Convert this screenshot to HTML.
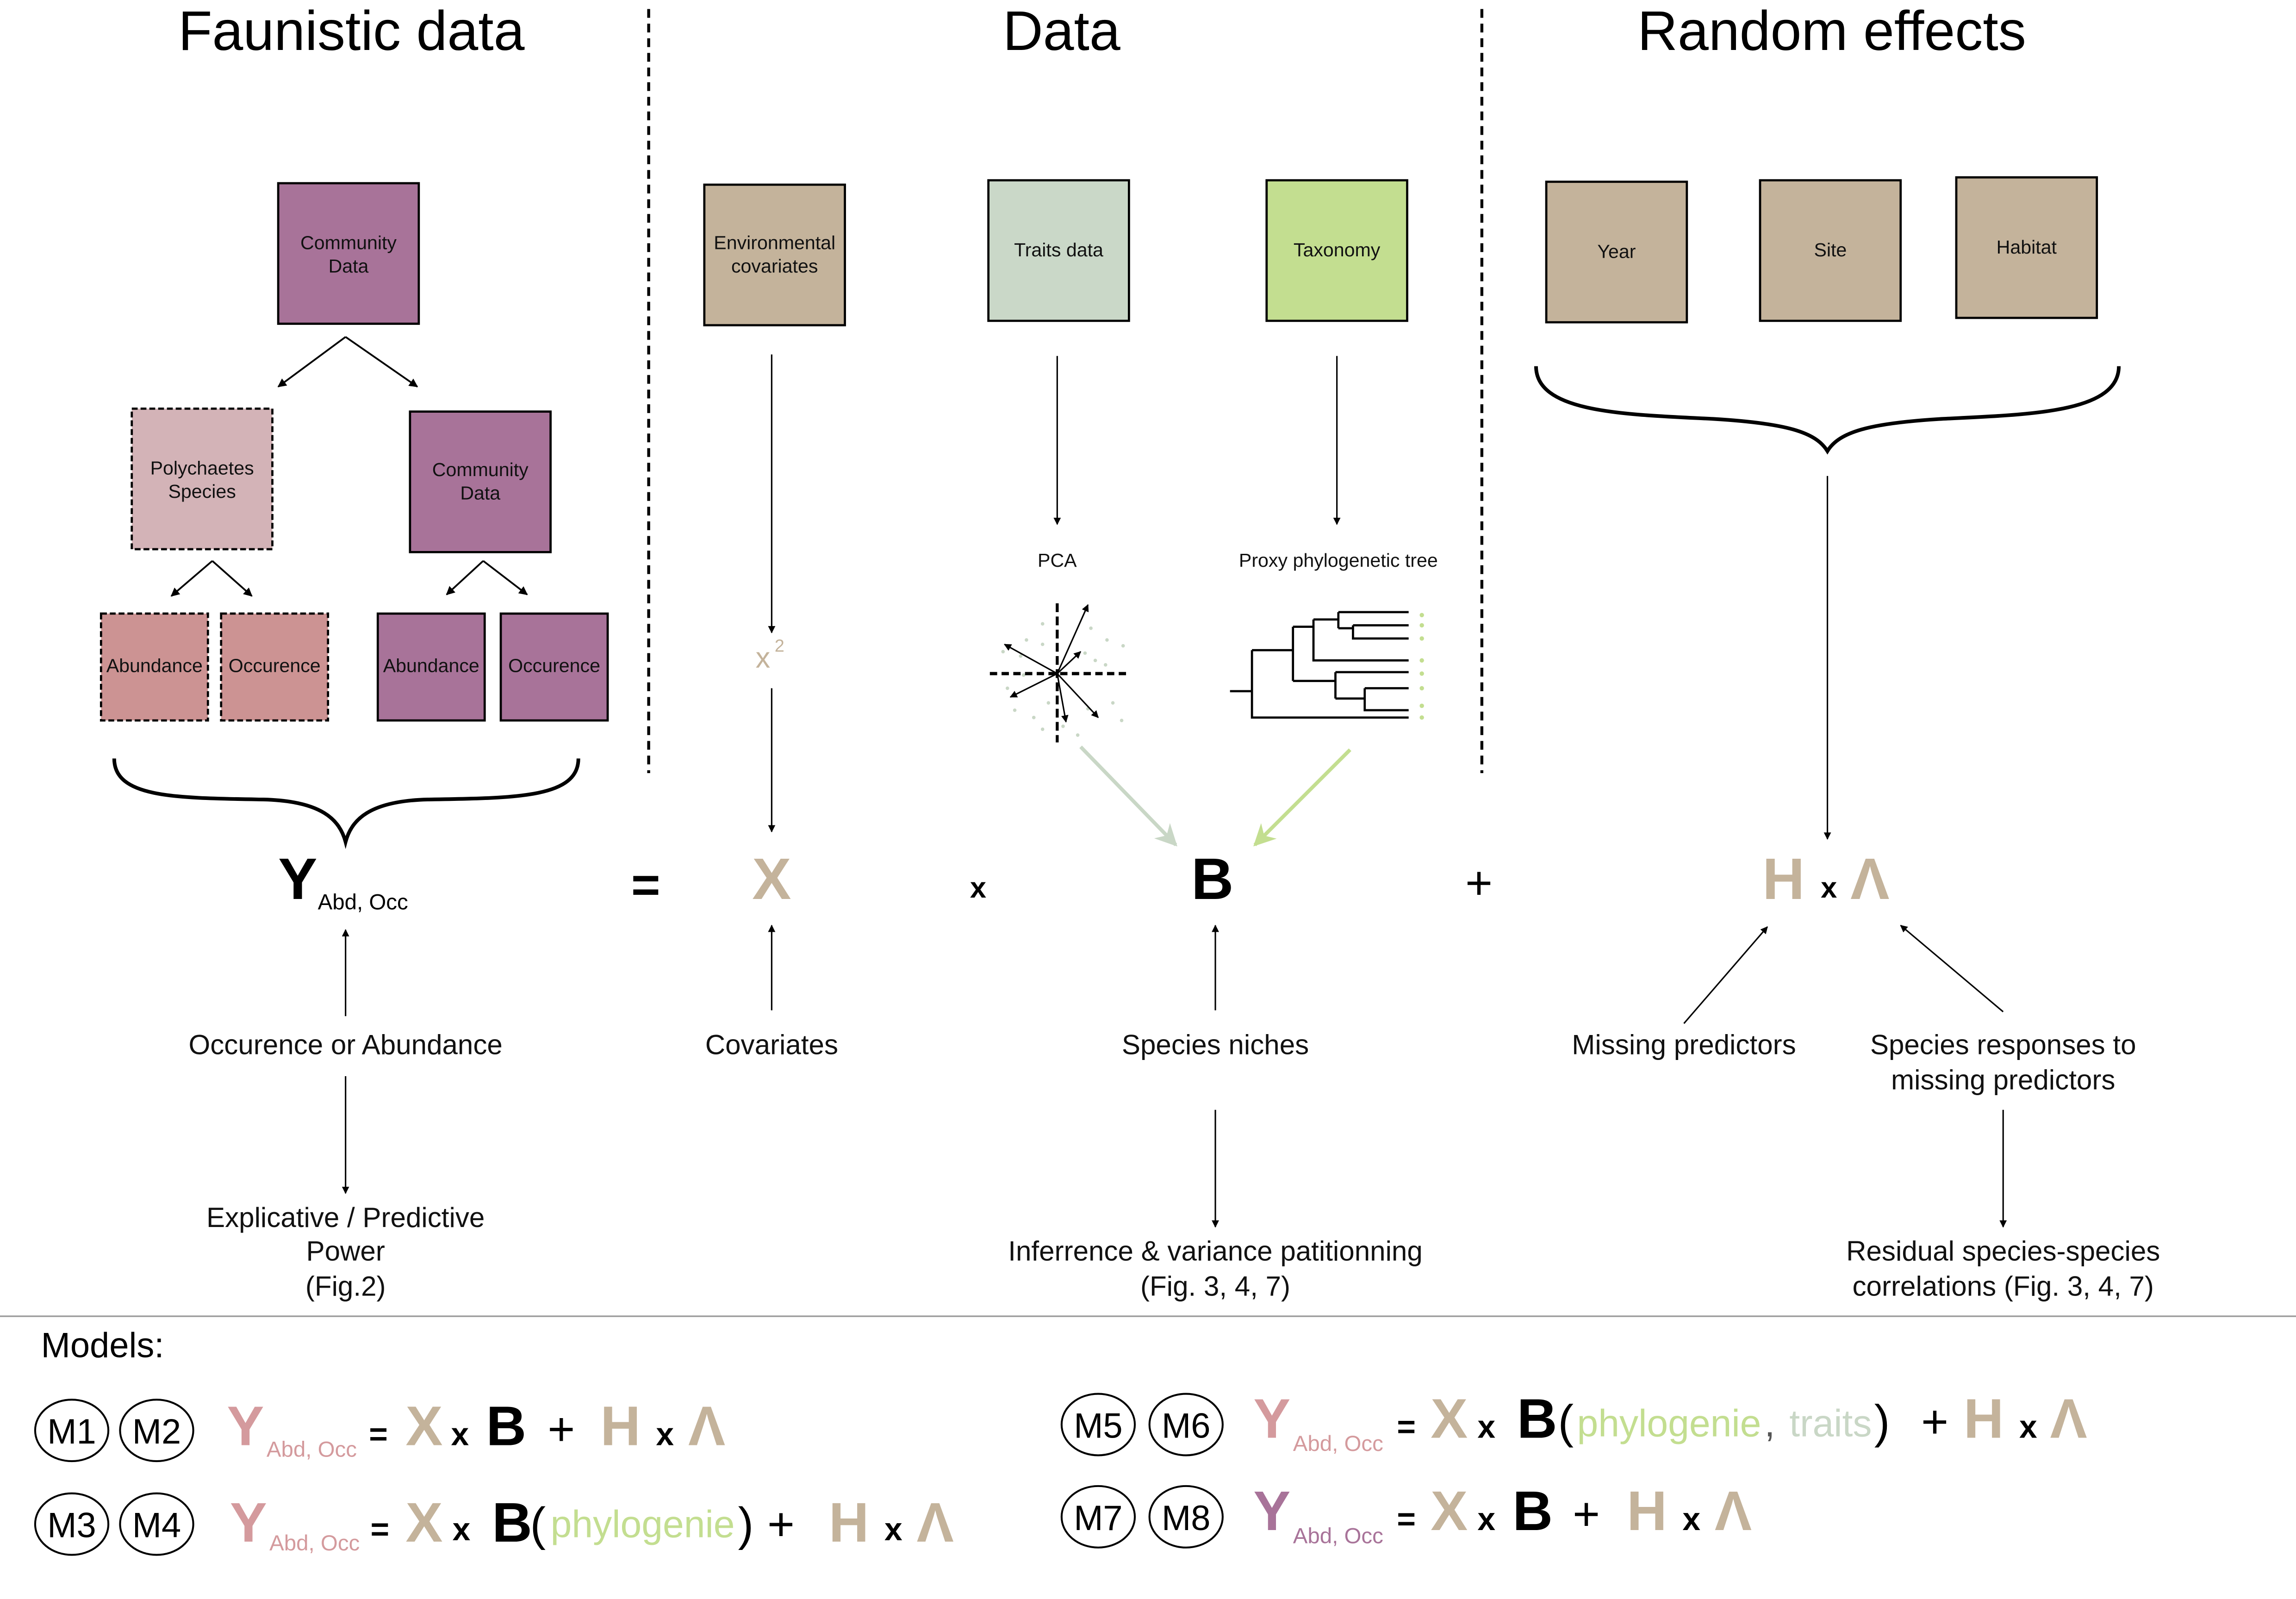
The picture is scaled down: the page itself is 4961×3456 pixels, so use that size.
<!DOCTYPE html>
<html><head><meta charset="utf-8"><style>
html,body{margin:0;padding:0;background:#fff;}
svg{display:block;}
text{font-family:"Liberation Sans",Arial,sans-serif;}
</style></head><body>
<svg width="4961" height="3456" viewBox="0 0 1568 1092" xmlns="http://www.w3.org/2000/svg">
<defs>
<marker id="ah" viewBox="0 0 10 10" refX="9" refY="5" markerWidth="7" markerHeight="7" orient="auto-start-reverse"><path d="M0,1 L10,5 L0,9 L3,5 z" fill="#000"/></marker>
<marker id="ahg" viewBox="0 0 10 10" refX="9" refY="5" markerWidth="6" markerHeight="6" orient="auto"><path d="M0,0 L10,5 L0,10 L3,5 z" fill="#c9d7c6"/></marker>
<marker id="ahl" viewBox="0 0 10 10" refX="9" refY="5" markerWidth="6" markerHeight="6" orient="auto"><path d="M0,0 L10,5 L0,10 L3,5 z" fill="#c3de90"/></marker>
<marker id="ahs" viewBox="0 0 10 10" refX="9" refY="5" markerWidth="5" markerHeight="5" orient="auto"><path d="M0,0 L10,5 L0,10 z" fill="#000"/></marker>
</defs>
<rect width="1568" height="1092" fill="#fff"/>
<!-- titles -->
<g font-size="38" text-anchor="middle" fill="#000">
<text x="240" y="34">Faunistic data</text>
<text x="725" y="34">Data</text>
<text x="1251" y="34">Random effects</text>
</g>
<line x1="443" y1="6" x2="443" y2="528" stroke="#000" stroke-width="2" stroke-dasharray="6,4"/>
<line x1="1012" y1="6" x2="1012" y2="528" stroke="#000" stroke-width="2" stroke-dasharray="6,4"/>

<!-- left boxes -->
<g stroke="#000" stroke-width="1.5">
<rect x="190" y="125" width="96" height="96" fill="#a87399"/>
<rect x="90" y="279" width="96" height="96" fill="#d3b3b7" stroke-dasharray="4,2"/>
<rect x="280" y="281" width="96" height="96" fill="#a87399"/>
<rect x="69" y="419" width="73" height="73" fill="#cc9393" stroke-dasharray="4,2"/>
<rect x="151" y="419" width="73" height="73" fill="#cc9393" stroke-dasharray="4,2"/>
<rect x="258" y="419" width="73" height="73" fill="#a87399"/>
<rect x="342" y="419" width="73" height="73" fill="#a87399"/>
</g>
<g font-size="13" text-anchor="middle" fill="#111">
<text x="238" y="170">Community</text><text x="238" y="186">Data</text>
<text x="138" y="324">Polychaetes</text><text x="138" y="340">Species</text>
<text x="328" y="325">Community</text><text x="328" y="341">Data</text>
<text x="105.5" y="459">Abundance</text>
<text x="187.5" y="459">Occurence</text>
<text x="294.5" y="459">Abundance</text>
<text x="378.5" y="459">Occurence</text>
</g>
<g stroke="#000" stroke-width="1.2" fill="none" marker-end="url(#ahs)">
<path d="M236,230 L190,264"/><path d="M236,230 L285,264"/>
<path d="M145,383 L117,407"/><path d="M145,383 L172,407"/>
<path d="M330,383 L305,406"/><path d="M330,383 L360,406"/>
</g>
<!-- braces -->
<path d="M78,518 C78,545 120,545 180,546 C220,547 232,560 236,575 C240,560 252,547 292,546 C352,545 395,545 395,518" fill="none" stroke="#000" stroke-width="2.5"/>
<path d="M1049,250 C1049,282 1110,283 1170,286 C1220,289 1240,295 1248,308 C1256,295 1276,289 1326,286 C1386,283 1447,282 1447,250" fill="none" stroke="#000" stroke-width="2.5"/>

<!-- mid boxes -->
<g stroke="#000" stroke-width="1.5">
<rect x="481" y="126" width="96" height="96" fill="#c4b39b"/>
<rect x="675" y="123" width="96" height="96" fill="#cad8c8"/>
<rect x="865" y="123" width="96" height="96" fill="#c3de90"/>
<rect x="1056" y="124" width="96" height="96" fill="#c4b39b"/>
<rect x="1202" y="123" width="96" height="96" fill="#c4b39b"/>
<rect x="1336" y="121" width="96" height="96" fill="#c4b39b"/>
</g>
<g font-size="13" text-anchor="middle" fill="#111">
<text x="529" y="170">Environmental</text><text x="529" y="186">covariates</text>
<text x="723" y="175">Traits data</text>
<text x="913" y="175">Taxonomy</text>
<text x="1104" y="176">Year</text>
<text x="1250" y="175">Site</text>
<text x="1384" y="173">Habitat</text>
<text x="722" y="387">PCA</text>
<text x="914" y="387">Proxy phylogenetic tree</text>
</g>
<g stroke="#000" stroke-width="1" fill="none" marker-end="url(#ahs)">
<path d="M527,242 L527,432"/><path d="M527,470 L527,568"/>
<path d="M722,243 L722,358"/><path d="M913,243 L913,358"/>
<path d="M1248,325 L1248,573"/>
</g>
<text x="516" y="456" font-size="20" fill="#c4b39b">x</text>
<text x="529" y="445" font-size="12" fill="#c4b39b">2</text>

<!-- PCA -->
<g fill="#c9d7c6">
<circle cx="712" cy="426" r="1.2"/><circle cx="745" cy="429" r="1.2"/><circle cx="756" cy="437" r="1.2"/><circle cx="767" cy="441" r="1.2"/><circle cx="701" cy="437" r="1.2"/><circle cx="741" cy="446" r="1.2"/><circle cx="755" cy="454" r="1.2"/><circle cx="697" cy="448" r="1.2"/><circle cx="712" cy="440" r="1.2"/><circle cx="748" cy="451" r="1.2"/><circle cx="688" cy="470" r="1.2"/><circle cx="716" cy="480" r="1.2"/><circle cx="760" cy="480" r="1.2"/><circle cx="693" cy="485" r="1.2"/><circle cx="706" cy="490" r="1.2"/><circle cx="743" cy="484" r="1.2"/><circle cx="766" cy="492" r="1.2"/><circle cx="726" cy="496" r="1.2"/><circle cx="712" cy="498" r="1.2"/><circle cx="736" cy="502" r="1.2"/><circle cx="699" cy="461" r="1.2"/><circle cx="685" cy="445" r="1.2"/>
</g>
<line x1="676" y1="460" x2="770" y2="460" stroke="#000" stroke-width="2.2" stroke-dasharray="5,3"/>
<line x1="722" y1="412" x2="722" y2="507" stroke="#000" stroke-width="2" stroke-dasharray="6,3"/>
<g stroke="#000" stroke-width="1" marker-end="url(#ahs)">
<line x1="722" y1="460" x2="743" y2="413"/>
<line x1="722" y1="460" x2="686" y2="440"/>
<line x1="722" y1="460" x2="738" y2="445"/>
<line x1="722" y1="460" x2="690" y2="476"/>
<line x1="722" y1="460" x2="750" y2="490"/>
<line x1="722" y1="460" x2="728" y2="493"/>
</g>
<!-- tree -->
<g stroke="#000" stroke-width="1.5" fill="none">
<path d="M840,472 L855,472 M855,444 L855,490 L962,490 M855,444 L883,444 M883,428 L883,465 M883,428 L897,428 M897,423 L897,451 L962,451 M897,423 L914,423 M914,418 L914,429 M914,418 L962,418 M914,429 L924,429 M924,427 L924,436 L962,436 M924,427 L962,427 M883,465 L912,465 M912,459 L912,477 M912,459 L962,459 M912,477 L932,477 M932,470 L932,485 L962,485 M932,470 L962,470"/>
</g>
<g fill="#c3de90">
<circle cx="971" cy="420" r="1.5"/><circle cx="971" cy="427" r="1.5"/><circle cx="971" cy="436" r="1.5"/><circle cx="971" cy="451" r="1.5"/><circle cx="971" cy="460" r="1.5"/><circle cx="971" cy="470" r="1.5"/><circle cx="971" cy="482" r="1.5"/><circle cx="971" cy="490" r="1.5"/>
</g>
<line x1="738" y1="510" x2="803" y2="577" stroke="#c9d7c6" stroke-width="2.5" marker-end="url(#ahg)"/>
<line x1="922" y1="512" x2="857" y2="577" stroke="#c3de90" stroke-width="2.5" marker-end="url(#ahl)"/>

<!-- equation -->
<text x="190" y="614" font-size="40" font-weight="bold">Y</text>
<text x="217" y="621" font-size="15">Abd, Occ</text>
<text x="441" y="616" font-size="34" text-anchor="middle" font-weight="bold">=</text>
<text x="527" y="614" font-size="40" font-weight="bold" fill="#c4b39b" text-anchor="middle">X</text>
<text x="668" y="613" font-size="20" font-weight="bold" text-anchor="middle">x</text>
<text x="828" y="614" font-size="40" font-weight="bold" text-anchor="middle">B</text>
<text x="1010" y="614" font-size="32" text-anchor="middle">+</text>
<text x="1218" y="614" font-size="40" font-weight="bold" fill="#c4b39b" text-anchor="middle">H</text>
<text x="1249" y="613" font-size="20" font-weight="bold" text-anchor="middle">x</text>
<text x="1277" y="614" font-size="40" font-weight="bold" fill="#c4b39b" text-anchor="middle">Λ</text>

<!-- bottom arrows -->
<g stroke="#000" stroke-width="1" fill="none" marker-end="url(#ahs)">
<path d="M236,694 L236,635"/><path d="M236,735 L236,815"/>
<path d="M527,690 L527,632"/>
<path d="M830,690 L830,632"/><path d="M830,758 L830,838"/>
<path d="M1150,699 L1207,633"/><path d="M1368,691 L1298,632"/>
<path d="M1368,758 L1368,838"/>
</g>
<g font-size="19" text-anchor="middle" fill="#111">
<text x="236" y="720">Occurence or Abundance</text>
<text x="236" y="838">Explicative / Predictive</text>
<text x="236" y="861">Power</text>
<text x="236" y="885">(Fig.2)</text>
<text x="527" y="720">Covariates</text>
<text x="830" y="720">Species niches</text>
<text x="830" y="861">Inferrence &amp; variance patitionning</text>
<text x="830" y="885">(Fig. 3, 4, 7)</text>
<text x="1150" y="720">Missing predictors</text>
<text x="1368" y="720">Species responses to</text>
<text x="1368" y="744">missing predictors</text>
<text x="1368" y="861">Residual species-species</text>
<text x="1368" y="885">correlations (Fig. 3, 4, 7)</text>
</g>
<line x1="0" y1="899" x2="1568" y2="899" stroke="#999" stroke-width="1"/>
<text x="28" y="927" font-size="24">Models:</text>

<!-- model ellipses -->
<g fill="none" stroke="#000" stroke-width="1.3">
<ellipse cx="49" cy="977" rx="25" ry="21"/><ellipse cx="107" cy="977" rx="25" ry="21"/>
<ellipse cx="49" cy="1041" rx="25" ry="21"/><ellipse cx="107" cy="1041" rx="25" ry="21"/>
<ellipse cx="750" cy="973" rx="25" ry="21"/><ellipse cx="810" cy="973" rx="25" ry="21"/>
<ellipse cx="750" cy="1036" rx="25" ry="21"/><ellipse cx="810" cy="1036" rx="25" ry="21"/>
</g>
<g font-size="24" text-anchor="middle">
<text x="49" y="986">M1</text><text x="107" y="986">M2</text>
<text x="49" y="1050">M3</text><text x="107" y="1050">M4</text>
<text x="750" y="982">M5</text><text x="810" y="982">M6</text>
<text x="750" y="1045">M7</text><text x="810" y="1045">M8</text>
</g>
<!-- row1 left -->
<g font-weight="bold" font-size="38">
<text x="155" y="987" fill="#d49a9d">Y</text>
<text x="277" y="987" fill="#c4b39b">X</text>
<text x="332" y="987">B</text>
<text x="410" y="987" fill="#c4b39b">H</text>
<text x="470" y="987" fill="#c4b39b">Λ</text>
<text x="157" y="1053" fill="#d49a9d">Y</text>
<text x="277" y="1053" fill="#c4b39b">X</text>
<text x="336" y="1053">B</text>
<text x="566" y="1053" fill="#c4b39b">H</text>
<text x="626" y="1053" fill="#c4b39b">Λ</text>
<text x="856" y="982" fill="#d49a9d">Y</text>
<text x="977" y="982" fill="#c4b39b">X</text>
<text x="1036" y="982">B</text>
<text x="1341" y="982" fill="#c4b39b">H</text>
<text x="1400" y="982" fill="#c4b39b">Λ</text>
<text x="856" y="1045" fill="#a87399">Y</text>
<text x="977" y="1045" fill="#c4b39b">X</text>
<text x="1033" y="1045">B</text>
<text x="1111" y="1045" fill="#c4b39b">H</text>
<text x="1171" y="1045" fill="#c4b39b">Λ</text>
</g>
<g font-size="15" fill="#d49a9d">
<text x="182" y="995">Abd, Occ</text>
<text x="184" y="1059">Abd, Occ</text>
<text x="883" y="991">Abd, Occ</text>
<text x="883" y="1054" fill="#a87399">Abd, Occ</text>
</g>
<g font-size="22" font-weight="bold">
<text x="252" y="987">=</text><text x="308" y="987">x</text><text x="448" y="987">x</text>
<text x="253" y="1052">=</text><text x="309" y="1052">x</text><text x="604" y="1052">x</text>
<text x="954" y="982">=</text><text x="1009" y="982">x</text><text x="1379" y="982">x</text>
<text x="954" y="1045">=</text><text x="1009" y="1045">x</text><text x="1149" y="1045">x</text>
</g>
<g font-size="32">
<text x="374" y="987">+</text>
<text x="524" y="1052">+</text>
<text x="1312" y="982">+</text>
<text x="1074" y="1045">+</text>
<text x="362" y="1052">(</text><text x="504" y="1052">)</text>
<text x="1064" y="982">(</text><text x="1280" y="982">)</text>
</g>
<text x="376" y="1050" font-size="26" fill="#c3de90">phylogenie</text>
<text x="1077" y="981" font-size="26" fill="#c3de90">phylogenie</text>
<text x="1205" y="981" font-size="26" fill="#555">,</text>
<text x="1222" y="981" font-size="26" fill="#c9d7c6">traits</text>
</svg>
</body></html>
